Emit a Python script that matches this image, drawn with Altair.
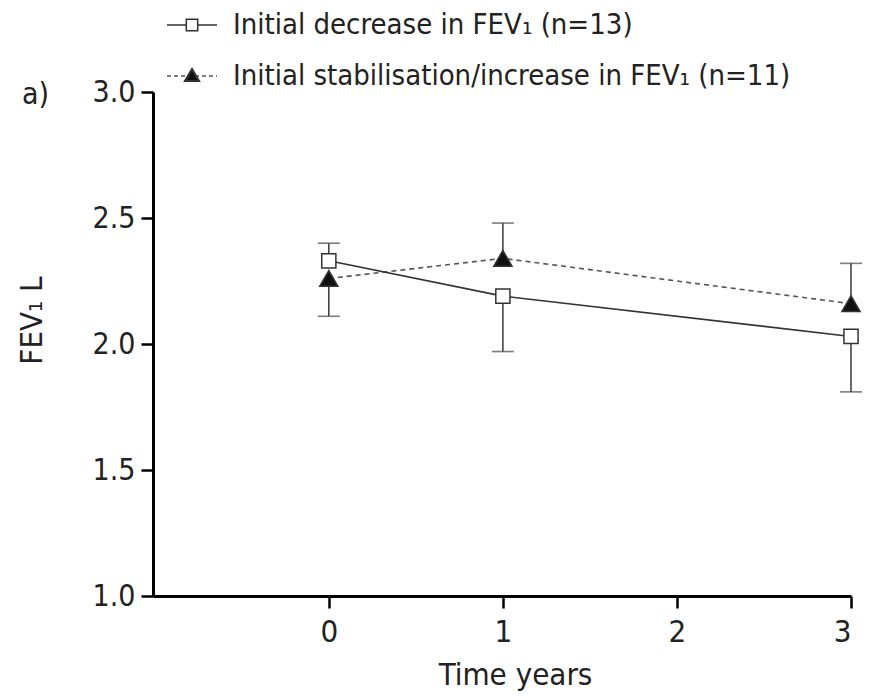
import altair as alt
import pandas as pd

# ---- data ----
years = [0, 1, 3]
dec_mean = [2.33, 2.19, 2.03]
dec_err_end = [2.40, 1.97, 1.81]
inc_mean = [2.26, 2.34, 2.16]
inc_err_end = [2.11, 2.48, 2.32]
series_names = ["Initial decrease in FEV\u2081 (n=13)",
                "Initial stabilisation/increase in FEV\u2081 (n=11)"]
x_ticks = [0, 1, 2, 3]
y_ticks = [1.0, 1.5, 2.0, 2.5, 3.0]
panel_label = ["a)"]

dec = pd.DataFrame({"t": years, "v": dec_mean, "e": dec_err_end})
inc = pd.DataFrame({"t": years, "v": inc_mean, "e": inc_err_end})

FONT = "DejaVu Sans Condensed"
DARK = "#333333"

xs = alt.Scale(domain=[-1.01, 3], nice=False, zero=False)
ys = alt.Scale(domain=[1.0, 3.0], nice=False, zero=False)

x_axis = alt.Axis(values=x_ticks, format="d", title="Time years", grid=False,
                  domainColor="black", domainWidth=3, tickColor="black",
                  tickWidth=2.5, tickSize=12, labelFontSize=31, labelPadding=9,
                  labelColor="#222", labelFont=FONT, titleFont=FONT,
                  titleFontSize=31, titleFontWeight="normal", titleColor="#222",
                  titleX=362, titleY=79, titleBaseline="middle")
y_axis = alt.Axis(values=y_ticks, format=".1f", title="FEV\u2081 L", grid=False,
                  domainColor="black", domainWidth=3, tickColor="black",
                  tickWidth=2.5, tickSize=12, labelFontSize=30, labelPadding=6,
                  labelColor="#222", labelFont=FONT, titleFont=FONT,
                  titleFontSize=31, titleFontWeight="normal", titleColor="#222",
                  titleX=-121, titleY=228, titleBaseline="middle", titleAngle=270)

X = alt.X("t:Q", scale=xs, axis=x_axis)
Y = alt.Y("v:Q", scale=ys, axis=y_axis)
Ye = alt.Y("e:Q", scale=ys, axis=y_axis)


def series_layers(df, dash, shape, fill, size):
    base = alt.Chart(df)
    err = base.mark_rule(color="#444", strokeWidth=1.6).encode(x=X, y=Y, y2="e:Q")
    cap = base.mark_tick(color="#444", orient="horizontal", size=22,
                         thickness=1.6).encode(x=X, y=Ye)
    line_kw = dict(color=DARK if not dash else "#555", strokeWidth=1.6)
    if dash:
        line_kw["strokeDash"] = dash
    line = base.mark_line(**line_kw).encode(x=X, y=Y)
    pts = base.mark_point(shape=shape, filled=True, fill=fill, stroke=DARK,
                          strokeWidth=1.5, size=size, opacity=1).encode(x=X, y=Y)
    return [err, cap, line, pts]


layers = []
layers += series_layers(inc, [5, 4], "triangle-up", "#111111", 330)
layers += series_layers(dec, None, "square", "white", 200)

# ---- manual legend above the plot ----
leg = [pd.DataFrame({"label": [n]}) for n in series_names]
leg_y = [-67, -16]
for i, df in enumerate(leg):
    rule_kw = dict(color=DARK if i == 0 else "#555", strokeWidth=1.6)
    if i == 1:
        rule_kw["strokeDash"] = [4, 3]
    layers.append(alt.Chart(df).mark_rule(**rule_kw).encode(
        x=alt.value(14), x2=alt.value(64), y=alt.value(leg_y[i])))
    if i == 0:
        layers.append(alt.Chart(df).mark_point(shape="square", filled=True, fill="white",
                                               stroke=DARK, strokeWidth=1.5, size=130,
                                               opacity=1).encode(
            x=alt.value(39), y=alt.value(leg_y[i])))
    else:
        layers.append(alt.Chart(df).mark_point(shape="triangle-up", filled=True,
                                               fill="#111", stroke=DARK, size=200,
                                               opacity=1).encode(
            x=alt.value(39), y=alt.value(leg_y[i] - 1)))
    layers.append(alt.Chart(df).mark_text(align="left", baseline="middle", font=FONT,
                                          fontSize=29, color="#222").encode(
        x=alt.value(80), y=alt.value(leg_y[i]), text="label:N"))

layers.append(alt.Chart(pd.DataFrame({"label": panel_label})).mark_text(
    align="left", baseline="middle", font=FONT, fontSize=30, color="#222").encode(
    x=alt.value(-131), y=alt.value(3), text="label:N"))

chart = alt.layer(*layers).properties(
    width=698, height=504,
    autosize=alt.AutoSizeParams(type="none"),
    padding={"left": 145, "top": 84, "right": 12, "bottom": 103},
    background="white",
).configure_view(stroke=None)

chart.save("out.html", embed_options={"renderer": "svg", "actions": False})
